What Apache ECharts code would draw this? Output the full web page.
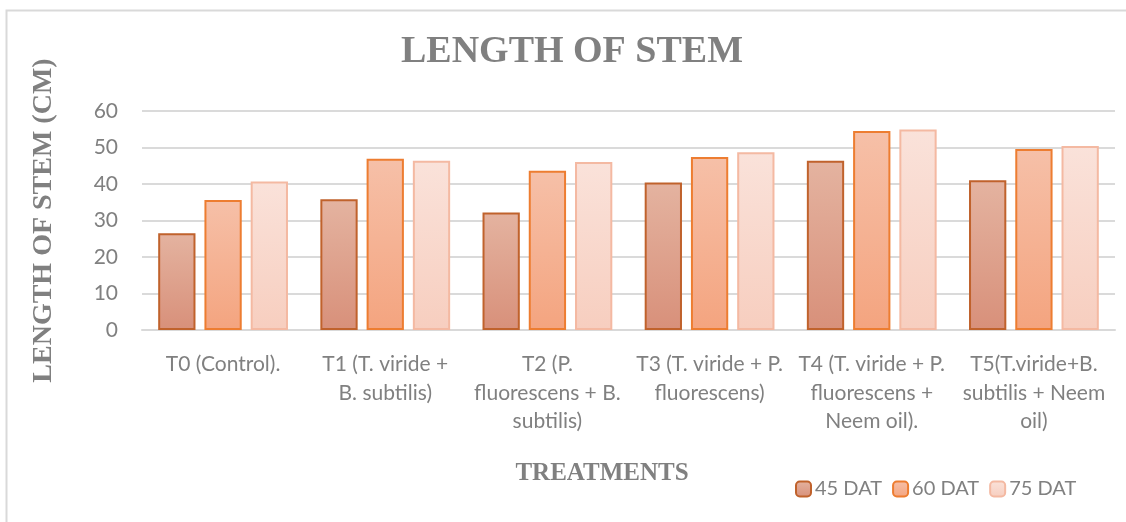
<!DOCTYPE html>
<html>
<head>
<meta charset="utf-8">
<script src="https://cdn.jsdelivr.net/npm/echarts@6/dist/echarts.min.js"></script>
<style>html,body{margin:0;padding:0;background:#fff;}#c{width:1126px;height:522px;}</style>
</head>
<body>
<div id="c"></div>
<script>
const categories = [
  "T0 (Control).",
  "T1 (T. viride +\nB. subtilis)",
  "T2 (P.\nfluorescens + B.\nsubtilis)",
  "T3 (T. viride + P.\nfluorescens)",
  "T4 (T. viride + P.\nfluorescens +\nNeem oil).",
  "T5(T.viride+B.\nsubtilis + Neem\noil)"
];
const seriesNames = ["45 DAT", "60 DAT", "75 DAT"];
const dat45 = [26.5, 35.8, 32.2, 40.4, 46.4, 41.0];
const dat60 = [35.6, 46.9, 43.6, 47.4, 54.5, 49.6];
const dat75 = [40.7, 46.4, 46.0, 48.7, 54.9, 50.4];
const yTicks = [0, 10, 20, 30, 40, 50, 60];

const grad = (top, bottom) => new echarts.graphic.LinearGradient(0, 0, 0, 1, [
  { offset: 0, color: top }, { offset: 1, color: bottom }
]);
const styles = [
  { color: grad('#e4b3a0', '#d8907a'), borderColor: '#c0622c', borderWidth: 2 },
  { color: grad('#f6c0a8', '#f4a47f'), borderColor: '#ed7d31', borderWidth: 2 },
  { color: grad('#fae2da', '#f7cebf'), borderColor: '#f4b9a2', borderWidth: 2 }
];
const values = [dat45, dat60, dat75];
const gray = '#808080';

const chart = echarts.init(document.getElementById('c'), null, { renderer: 'canvas' });
chart.setOption({
  animation: false,
  backgroundColor: '#fff',
  title: {
    text: 'LENGTH OF STEM',
    left: 567, top: 28, textAlign: 'center',
    textStyle: { fontFamily: 'Liberation Serif', fontWeight: 'bold', fontSize: 38, color: gray }
  },
  graphic: [
    { type: 'rect', left: 4, top: 8, shape: { width: 1200, height: 600 },
      style: { fill: 'none', stroke: '#d9d9d9', lineWidth: 2 }, z: -1 },
    { type: 'text', x: 602, y: 474,
      style: { text: 'TREATMENTS', font: 'bold 25px "Liberation Serif"', fill: gray,
               textAlign: 'center', textVerticalAlign: 'middle' } }
  ],
  legend: {
    data: seriesNames,
    left: 790, top: 474,
    itemWidth: 15, itemHeight: 15, itemGap: 10,
    textStyle: { fontFamily: 'Lato', fontSize: 20, color: gray, padding: [0, 0, 0, -1] }
  },
  grid: { left: 142, right: 11, top: 111, bottom: 192 },
  xAxis: {
    type: 'category',
    data: categories,
    axisLine: { lineStyle: { color: '#d9d9d9', width: 2 } },
    axisTick: { show: false },
    axisLabel: {
      interval: 0, margin: 20, color: gray, fontFamily: 'Lato', fontSize: 21, lineHeight: 28.5,
      align: 'center', overflow: 'none'
    }
  },
  yAxis: {
    type: 'value', min: yTicks[0], max: yTicks[yTicks.length - 1], interval: 10,
    name: 'LENGTH OF STEM (CM)', nameLocation: 'middle', nameRotate: 90, nameGap: 84,
    nameTextStyle: { fontFamily: 'Liberation Serif', fontWeight: 'bold', fontSize: 28, color: gray },
    axisLine: { show: false }, axisTick: { show: false },
    axisLabel: { margin: 24, color: gray, fontFamily: 'Lato', fontSize: 21 },
    splitLine: { lineStyle: { color: '#dadada', width: 2 } }
  },
  series: seriesNames.map((n, i) => ({
    name: n, type: 'bar', data: values[i],
    barWidth: '23%', barGap: '24%',
    itemStyle: styles[i]
  }))
});
</script>
</body>
</html>
